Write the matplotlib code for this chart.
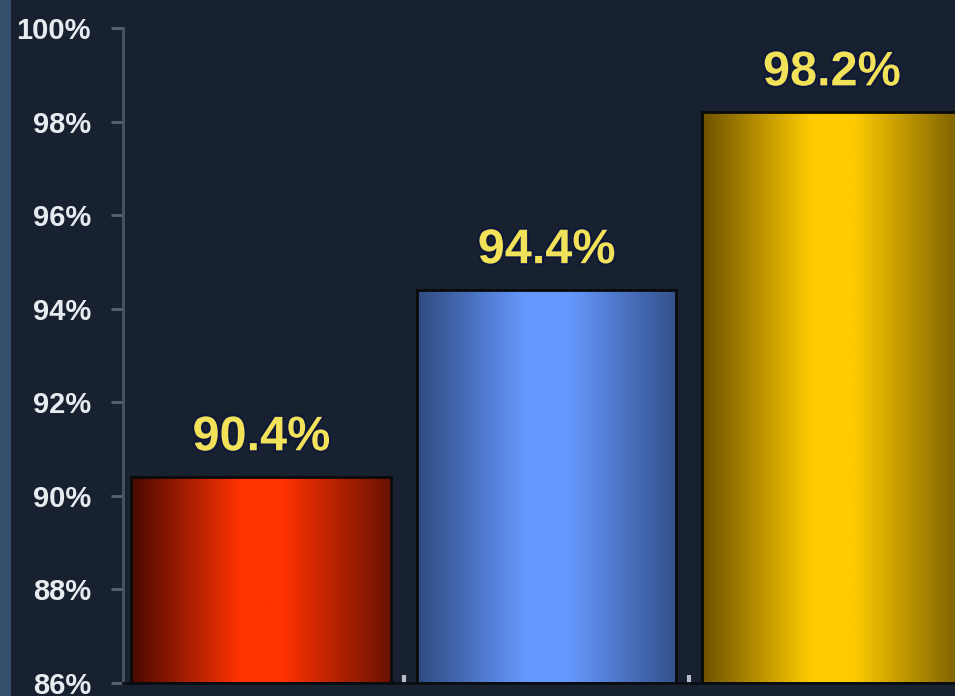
import matplotlib.pyplot as plt
import matplotlib.patheffects as pe
import numpy as np
from matplotlib.colors import LinearSegmentedColormap
from matplotlib.patches import Rectangle

# uptime per category, in percent
categories = ["A", "B", "C"]
values = [90.4, 94.4, 98.2]
value_labels = ["90.4%", "94.4%", "98.2%"]
y_ticks = [86, 88, 90, 92, 94, 96, 98, 100]

# edge / centre / edge colours for the bar shading
bar_shades = [
    ["#4a0800", "#ff3300", "#ff3300", "#6a1200"],
    ["#2e4a80", "#6699ff", "#6699ff", "#33508a"],
    ["#6e5200", "#ffcc00", "#ffcc00", "#7a5e00"],
]

BG = "#172130"
BASE = 86

fig = plt.figure(figsize=(9.55, 6.96), dpi=100, facecolor=BG)
ax = fig.add_axes([123 / 955, 13 / 696, 832 / 955, 655 / 696])
ax.set_facecolor(BG)

# lighter strip on the far left edge
fig.add_artist(Rectangle((0, 0), 11 / 955, 1, transform=fig.transFigure,
                         facecolor="#34506c", edgecolor="none"))

width = 0.911
heights = [v - BASE for v in values]
bars = ax.bar(range(len(values)), heights, width=width, bottom=BASE,
              facecolor="none", edgecolor="#0a0a0a", linewidth=2, zorder=3)

grad = np.linspace(0, 1, 256).reshape(1, -1)
for bar, shades, val, lab in zip(bars, bar_shades, values, value_labels):
    cmap = LinearSegmentedColormap.from_list(
        "shade", list(zip([0, 0.42, 0.58, 1], shades)))
    x0 = bar.get_x()
    img = ax.imshow(grad, cmap=cmap, aspect="auto", zorder=2,
                    extent=[x0, x0 + width, BASE, val], interpolation="bicubic")
    img.set_clip_path(bar)
    ax.text(x0 + width / 2, val + 0.36, lab, ha="center", va="bottom",
            color="#f2e25a", fontsize=35, fontweight="bold",
            family="Liberation Sans", zorder=4,
            path_effects=[pe.withStroke(linewidth=3, foreground="#10183a")])

ax.set_xlim(-0.485, 2.432)
ax.set_ylim(86, 100)
ax.set_yticks(y_ticks)
ax.set_yticklabels([f"{t}%" for t in y_ticks], fontsize=21, fontweight="bold",
                   family="Liberation Sans", color="#e8ecf0")
ax.tick_params(axis="y", length=9, width=2, color="#5a6470", pad=14)
ax.set_xticks([0.5, 1.5])
ax.set_xticklabels([])
ax.tick_params(axis="x", direction="in", length=6, width=3, color="#b8bcc4")

for side in ["top", "right"]:
    ax.spines[side].set_visible(False)
ax.spines["left"].set_color("#4a5563")
ax.spines["left"].set_linewidth(2)
ax.spines["bottom"].set_color("#0a0e14")
ax.spines["bottom"].set_linewidth(2)

fig.savefig("out.png", dpi=100, facecolor=BG)
